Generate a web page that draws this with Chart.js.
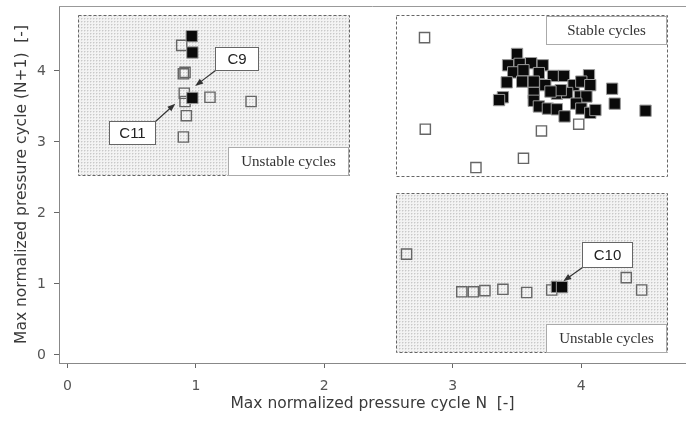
<!DOCTYPE html>
<html>
<head>
<meta charset="utf-8">
<script src="https://cdn.jsdelivr.net/npm/chart.js@4/dist/chart.umd.min.js"></script>
<style>
  html, body { margin: 0; padding: 0; background: #fff; }
  #wrap { width: 686px; height: 421px; }
</style>
</head>
<body>
<div id="wrap"><canvas id="c" width="686" height="421"></canvas></div>
<script>
// Max normalized pressure of cycle N against cycle N+1
const xTicks = [0, 1, 2, 3, 4];
const yTicks = [0, 1, 2, 3, 4];

// unstable / transient cycles (open squares)
const openX = [0.89, 0.916, 0.903, 0.91, 0.916, 1.11, 1.43, 0.926, 0.903,
               2.78, 2.786, 3.18, 3.55, 3.69, 3.98,
               2.64, 3.07, 3.16, 3.25, 3.39, 3.575, 3.77, 4.35, 4.47];
const openY = [4.36, 3.98, 3.96, 3.686, 3.57, 3.63, 3.57, 3.37, 3.07,
               4.47, 3.18, 2.64, 2.77, 3.155, 3.25,
               1.42, 0.89, 0.89, 0.906, 0.925, 0.88, 0.915, 1.09, 0.915];

// cycles C9, C10, C11 and the stable cycles (filled squares)
const solidX = [0.968, 0.973, 0.973,
                3.50, 3.43, 3.52, 3.61, 3.70, 3.47, 3.55, 3.67, 3.78, 3.865, 4.06,
                3.42, 3.54, 3.63, 3.72, 3.94, 4.00, 4.07, 4.24, 3.39, 3.36, 3.63,
                3.63, 3.81, 3.89, 3.99, 4.04, 3.67, 3.74, 3.81, 3.87, 3.96, 4.00,
                4.07, 4.11, 4.26, 4.50, 3.84, 3.76,
                3.81, 3.85];
const solidY = [4.49, 4.26, 3.62,
                4.24, 4.08, 4.10, 4.11, 4.08, 3.98, 4.01, 3.97, 3.93, 3.93, 3.94,
                3.84, 3.85, 3.85, 3.80, 3.80, 3.85, 3.80, 3.75, 3.63, 3.59, 3.69,
                3.58, 3.68, 3.69, 3.64, 3.64, 3.50, 3.47, 3.46, 3.36, 3.54, 3.47,
                3.41, 3.45, 3.54, 3.44, 3.73, 3.71,
                0.96, 0.955];

const toPoints = (xs, ys) => xs.map((x, i) => ({ x: x, y: ys[i] }));

// shaded regions and their captions (data coordinates)
const regions = [
  { x0: 0.083, x1: 2.19, y0: 2.535, y1: 4.79, shaded: true,  text: 'Unstable cycles', at: 'bottom' },
  { x0: 2.557, x1: 4.667, y0: 2.52, y1: 4.79, shaded: false, text: 'Stable cycles',   at: 'top' },
  { x0: 2.557, x1: 4.667, y0: 0.042, y1: 2.28, shaded: true,  text: 'Unstable cycles', at: 'bottom' }
];

// callouts: box centre, box size in px, arrow start corner and arrow tip
const callouts = [
  { text: 'C9',  cx: 1.317, cy: 4.176, w: 43, h: 23, corner: 'bl', tx: 0.995, ty: 3.79 },
  { text: 'C11', cx: 0.503, cy: 3.134, w: 46, h: 23, corner: 'tr', tx: 0.84,  ty: 3.54 },
  { text: 'C10', cx: 4.20,  cy: 1.415, w: 50, h: 25, corner: 'bl', tx: 3.86,  ty: 1.04 }
];

function stipple(ctx) {
  const t = document.createElement('canvas');
  t.width = 3; t.height = 3;
  const g = t.getContext('2d');
  g.fillStyle = '#f3f3f3';
  g.fillRect(0, 0, 3, 3);
  g.fillStyle = '#e0e0e0';
  g.fillRect(1, 0, 1, 1);
  g.fillRect(0, 1, 1, 1);
  g.fillStyle = '#c9c9c9';
  g.fillRect(0, 0, 1, 1);
  return ctx.createPattern(t, 'repeat');
}

const decor = {
  id: 'decor',
  beforeDatasetsDraw(chart) {
    const { ctx, scales: { x, y }, chartArea: a } = chart;
    ctx.save();
    // top frame line
    ctx.strokeStyle = '#999';
    ctx.lineWidth = 1;
    ctx.beginPath();
    ctx.moveTo(a.left, a.top + 0.5);
    ctx.lineTo(a.right, a.top + 0.5);
    ctx.stroke();
    const pat = stipple(ctx);
    regions.forEach(r => {
      const l = Math.round(x.getPixelForValue(r.x0)) + 0.5;
      const rt = Math.round(x.getPixelForValue(r.x1)) + 0.5;
      const t = Math.round(y.getPixelForValue(r.y1)) + 0.5;
      const b = Math.round(y.getPixelForValue(r.y0)) + 0.5;
      if (r.shaded) {
        ctx.fillStyle = pat;
        ctx.fillRect(l, t, rt - l, b - t);
      }
      ctx.setLineDash([3, 2]);
      ctx.strokeStyle = '#666';
      ctx.lineWidth = 1;
      ctx.strokeRect(l, t, rt - l, b - t);
      ctx.setLineDash([]);
    });
    ctx.restore();
  },
  afterDatasetsDraw(chart) {
    const { ctx, scales: { x, y } } = chart;
    ctx.save();
    // region captions
    regions.forEach(r => {
      const rt = Math.round(x.getPixelForValue(r.x1)) + 0.5;
      const t = Math.round(y.getPixelForValue(r.y1)) + 0.5;
      const b = Math.round(y.getPixelForValue(r.y0)) + 0.5;
      const w = 120, h = 28;
      const top = r.at === 'top' ? t + 1 : b - h;
      const left = rt - w - 1;
      ctx.fillStyle = '#fff';
      ctx.fillRect(left, top, w, h);
      ctx.strokeStyle = '#aaa';
      ctx.lineWidth = 1;
      ctx.strokeRect(left, top, w, h);
      ctx.fillStyle = '#333';
      ctx.font = '15px "Liberation Serif", serif';
      ctx.textAlign = 'center';
      ctx.textBaseline = 'middle';
      ctx.fillText(r.text, left + w / 2, top + h / 2 + 1);
    });
    // callouts with arrows
    callouts.forEach(c => {
      const cx = x.getPixelForValue(c.cx), cy = y.getPixelForValue(c.cy);
      const l = Math.round(cx - c.w / 2) + 0.5, t = Math.round(cy - c.h / 2) + 0.5;
      const sx = c.corner === 'bl' ? l : l + c.w;
      const sy = c.corner === 'bl' ? t + c.h : t;
      const ex = x.getPixelForValue(c.tx), ey = y.getPixelForValue(c.ty);
      const ang = Math.atan2(ey - sy, ex - sx);
      ctx.strokeStyle = '#333';
      ctx.fillStyle = '#333';
      ctx.lineWidth = 1.2;
      ctx.beginPath();
      ctx.moveTo(sx, sy);
      ctx.lineTo(ex - 5 * Math.cos(ang), ey - 5 * Math.sin(ang));
      ctx.stroke();
      ctx.beginPath();
      ctx.moveTo(ex, ey);
      ctx.lineTo(ex - 8 * Math.cos(ang) + 3 * Math.sin(ang), ey - 8 * Math.sin(ang) - 3 * Math.cos(ang));
      ctx.lineTo(ex - 8 * Math.cos(ang) - 3 * Math.sin(ang), ey - 8 * Math.sin(ang) + 3 * Math.cos(ang));
      ctx.closePath();
      ctx.fill();
      ctx.fillStyle = '#fff';
      ctx.fillRect(l, t, c.w, c.h);
      ctx.strokeStyle = '#666';
      ctx.lineWidth = 1;
      ctx.strokeRect(l, t, c.w, c.h);
      ctx.fillStyle = '#222';
      ctx.font = '15px "Liberation Sans", Arial, sans-serif';
      ctx.textAlign = 'center';
      ctx.textBaseline = 'middle';
      ctx.fillText(c.text, l + c.w / 2, t + c.h / 2 + 1);
    });
    ctx.restore();
  }
};

const tickFont = { family: '"DejaVu Sans", sans-serif', size: 14 };
const titleFont = { family: '"DejaVu Sans", sans-serif', size: 15.5 };

// keep the plot area flush with the frame: no extra label padding
function noPad(s) {
  s.paddingTop = 0; s.paddingBottom = 0; s.paddingLeft = 0; s.paddingRight = 0;
}

new Chart(document.getElementById('c'), {
  type: 'scatter',
  data: {
    datasets: [
      {
        label: 'filled',
        data: toPoints(solidX, solidY),
        pointStyle: 'rect',
        pointRadius: 8,
        pointHoverRadius: 8,
        backgroundColor: '#0a0a0a',
        borderColor: '#9a9a9a',
        borderWidth: 1
      },
      {
        label: 'open',
        data: toPoints(openX, openY),
        pointStyle: 'rect',
        pointRadius: 7.2,
        pointHoverRadius: 7.2,
        backgroundColor: 'rgba(0,0,0,0)',
        borderColor: '#666',
        borderWidth: 1.4
      }
    ]
  },
  options: {
    responsive: false,
    devicePixelRatio: 1,
    animation: false,
    layout: { autoPadding: false, padding: { top: 6, right: 0, left: 0, bottom: 0 } },
    plugins: { legend: { display: false }, tooltip: { enabled: false } },
    scales: {
      x: {
        type: 'linear',
        min: -0.065,
        max: 4.815,
        afterBuildTicks: s => { s.ticks = xTicks.map(v => ({ value: v })); },
        afterFit: s => { s.height = 58; noPad(s); },
        grid: { drawOnChartArea: false, drawTicks: true, tickLength: 5, color: '#666' },
        border: { display: true, color: '#888', width: 1 },
        ticks: { color: '#555', font: tickFont, padding: 10, maxRotation: 0 },
        title: {
          display: true,
          text: 'Max normalized pressure cycle N  [-]',
          color: '#3a3a3a',
          font: titleFont,
          padding: { top: 0, bottom: 8 }
        }
      },
      y: {
        type: 'linear',
        min: -0.113,
        max: 4.915,
        afterBuildTicks: s => { s.ticks = yTicks.map(v => ({ value: v })); },
        afterFit: s => { s.width = 59; noPad(s); },
        grid: { drawOnChartArea: false, drawTicks: true, tickLength: 5, color: '#666' },
        border: { display: true, color: '#888', width: 1 },
        ticks: { color: '#555', font: tickFont, padding: 8 },
        title: {
          display: true,
          text: 'Max normalized pressure cycle (N+1)  [-]',
          color: '#3a3a3a',
          font: titleFont,
          padding: { top: 13, bottom: 0 }
        }
      }
    }
  },
  plugins: [decor]
});
</script>
</body>
</html>
